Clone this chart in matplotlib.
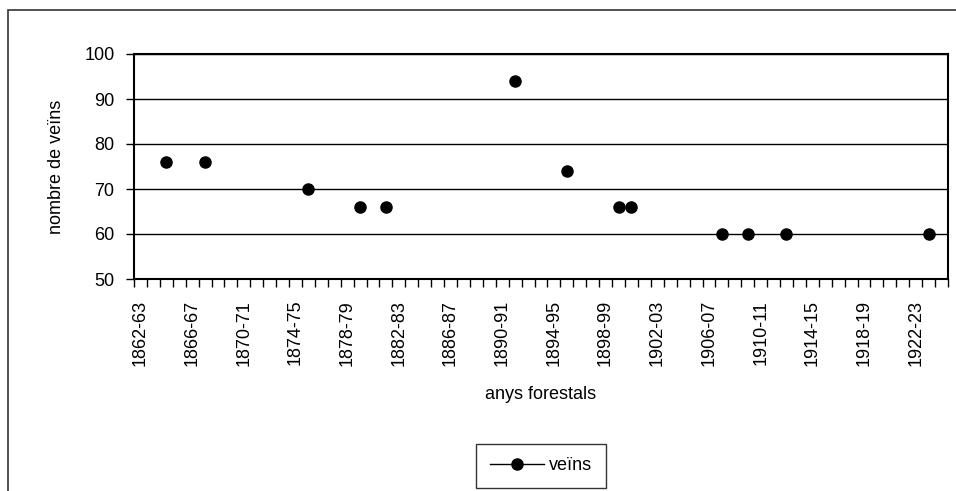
import numpy as np
import matplotlib.pyplot as plt
from matplotlib.lines import Line2D
from matplotlib.patches import Rectangle

plt.rcParams['font.family'] = ['Liberation Sans', 'DejaVu Sans']

# forest seasons on the category axis, 1862-63 .. 1924-25
first_year = 1862
n_seasons = 63
seasons = [f"{y}-{(y + 1) % 100:02d}" for y in range(first_year, first_year + n_seasons)]

# observed seasons and number of residents
obs_seasons = ['1864-65', '1867-68', '1875-76', '1879-80', '1881-82', '1891-92',
               '1895-96', '1899-00', '1900-01', '1907-08', '1909-10', '1912-13',
               '1923-24']
veins = [76, 76, 70, 66, 66, 94, 74, 66, 66, 60, 60, 60, 60]

fs = 13

fig = plt.figure(figsize=(9.56, 4.91), dpi=100)
ax = fig.add_axes([134 / 956, 1 - 279 / 491, (948 - 134) / 956, (279 - 54) / 491])

x = [seasons.index(s) for s in obs_seasons]
ax.plot(x, veins, linestyle='none', marker='o', color='black', markersize=8, zorder=4)

ax.set_xlim(-0.5, n_seasons - 0.5)
ax.set_ylim(50, 100)
ax.set_yticks(range(50, 101, 10))
ax.yaxis.grid(True, color='black', linewidth=1)
ax.set_axisbelow(True)

# ticks on category borders, labels every 4th season
ax.set_xticks(np.arange(-0.5, n_seasons, 1), labels=[''] * (n_seasons + 1))
ax.set_xticks(range(0, n_seasons, 4), labels=seasons[::4], minor=True, rotation=90)
ax.tick_params(axis='x', which='major', length=6, width=1, color='black')
ax.tick_params(axis='x', which='minor', length=0, pad=15, labelsize=fs)
ax.tick_params(axis='y', length=6, width=1, pad=8, labelsize=fs)

for spine in ax.spines.values():
    spine.set_linewidth(1.5)
    spine.set_color('black')

ax.set_ylabel('nombre de veïns', fontsize=fs, labelpad=14)
ax.set_xlabel('anys forestals', fontsize=fs, labelpad=14)

handle = Line2D([], [], color='black', marker='o', markersize=8, linewidth=1)
leg = fig.legend([handle], ['veïns'], loc='center',
                 bbox_to_anchor=(541 / 956, 1 - 466 / 491), fontsize=fs,
                 frameon=True, fancybox=False, handlelength=3.0, handletextpad=0.3,
                 borderpad=0.75)
leg.get_frame().set_edgecolor('black')
leg.get_frame().set_linewidth(1)

# outer chart-area border (cut off on the right and bottom)
fig.patches.append(Rectangle((8 / 956, -0.1), 1.2, 1 - 10 / 491 + 0.1,
                             transform=fig.transFigure, fill=False,
                             edgecolor='#333333', linewidth=1.2))

fig.savefig('out.png', dpi=100)
